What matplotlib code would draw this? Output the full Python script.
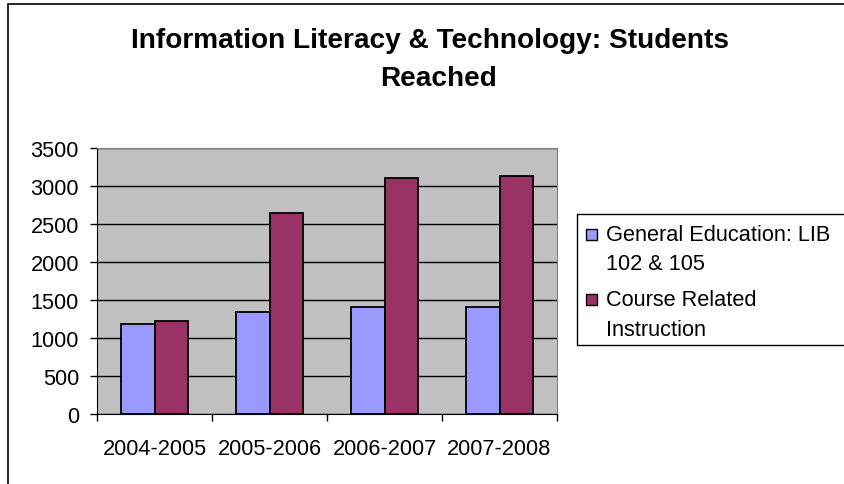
import matplotlib.pyplot as plt
from matplotlib.patches import Rectangle
import numpy as np

years = ["2004-2005", "2005-2006", "2006-2007", "2007-2008"]
gen_ed = [1180, 1345, 1410, 1410]
course = [1225, 2645, 3105, 3130]
labels = [["General Education: LIB", "102 & 105"],
          ["Course Related", "Instruction"]]
colors = ['#9999FF', '#993366']
yticks = [0, 500, 1000, 1500, 2000, 2500, 3000, 3500]
title_lines = ["Information Literacy & Technology: Students", "Reached"]

plt.rcParams['font.family'] = ['Liberation Sans', 'DejaVu Sans']

W, H = 844, 485
fig = plt.figure(figsize=(W / 100, H / 100), dpi=100)


def fx(px):
    return px / W


def fy(py):
    return 1 - py / H


# outer chart border
fig.patches.append(Rectangle((fx(8), -0.1), 1.2, fy(5) + 0.1,
                             transform=fig.transFigure, fill=False,
                             edgecolor='black', linewidth=1.2))

ax = fig.add_axes([fx(97), fy(415), 460 / W, 266 / H])
ax.set_facecolor('#C0C0C0')

x = np.arange(len(years))
w = 0.29
ax.bar(x - w / 2, gen_ed, w, color=colors[0], edgecolor='black',
       linewidth=1.3, zorder=3)
ax.bar(x + w / 2, course, w, color=colors[1], edgecolor='black',
       linewidth=1.3, zorder=3)

ax.set_xlim(-0.5, 3.5)
ax.set_ylim(0, 3500)
ax.set_yticks(yticks)
ax.yaxis.grid(True, color='black', linewidth=1, zorder=1)
ax.set_axisbelow(True)

# category boundaries as ticks, labels at centers
ax.set_xticks(np.arange(-0.5, 4, 1))
ax.set_xticklabels([])
ax.set_xticks(x, minor=True)
ax.set_xticklabels(years, minor=True, fontsize=15.7)
ax.tick_params(axis='x', which='major', direction='out', length=5, width=1)
ax.tick_params(axis='x', which='minor', length=0, pad=17)
ax.tick_params(axis='y', direction='out', length=5, width=1, pad=8,
               labelsize=15.7)

for s in ['top', 'right']:
    ax.spines[s].set_color('#808080')
for s in ['left', 'bottom']:
    ax.spines[s].set_color('black')

# title, two lines
for line, base, cx in zip(title_lines, [48, 86], [430, 438]):
    fig.text(fx(cx), fy(base), line, ha='center', va='baseline',
             fontsize=20.2, fontweight='bold')

# legend (frame runs off the right edge)
fig.patches.append(Rectangle((fx(577), fy(346)), 0.5, 131 / H,
                             transform=fig.transFigure, fill=False,
                             edgecolor='black', linewidth=1))
entry_bases = [[241, 270], [306, 336]]
for lab, col, bases in zip(labels, colors, entry_bases):
    fig.patches.append(Rectangle((fx(586), fy(bases[0])), 11 / W, 11 / H,
                                 transform=fig.transFigure, facecolor=col,
                                 edgecolor='black', linewidth=1))
    for txt, b in zip(lab, bases):
        fig.text(fx(606), fy(b), txt, ha='left', va='baseline',
                 fontsize=15.7)

fig.savefig("out.png", dpi=100)
